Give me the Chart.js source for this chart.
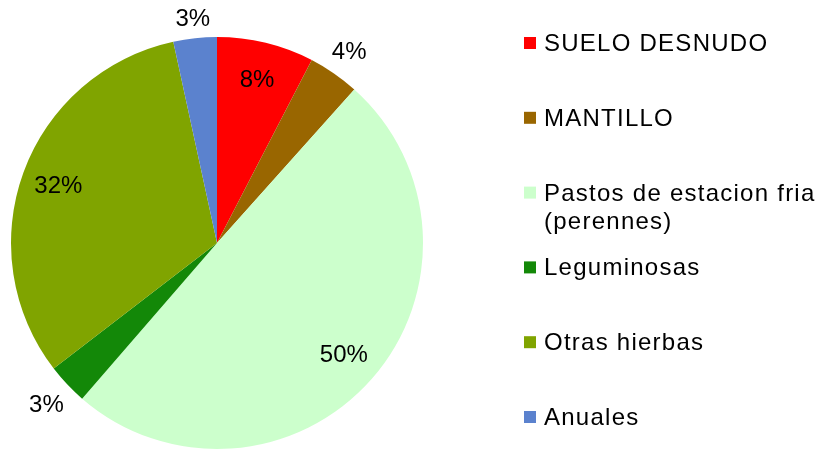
<!DOCTYPE html>
<html><head><meta charset="utf-8">
<script src="https://cdn.jsdelivr.net/npm/chart.js@4/dist/chart.umd.min.js"></script>
<style>html,body{margin:0;padding:0;background:#fff}#wrap{width:817px;height:450px;position:relative}canvas{display:block}</style>
</head><body><div id="wrap"><canvas id="c" width="817" height="450"></canvas></div>
<script>
const categories = ["SUELO DESNUDO", "MANTILLO", "Pastos de estacion fria (perennes)", "Leguminosas", "Otras hierbas", "Anuales"];
const legendLines = [["SUELO DESNUDO"], ["MANTILLO"], ["Pastos de estacion fria", "(perennes)"], ["Leguminosas"], ["Otras hierbas"], ["Anuales"]];
const values = [7.6, 4.0, 49.7, 3.2, 32.0, 3.4];
const colors = ["#FF0000", "#996600", "#CCFFCC", "#138808", "#80A400", "#5B82CE"];

const FONT = '"Liberation Sans", Arial, sans-serif';

const pieLabels = {
  id: 'pieLabels',
  afterDatasetsDraw(chart) {
    const ctx = chart.ctx;
    const meta = chart.getDatasetMeta(0);
    const data = chart.data.datasets[0].data;
    const total = data.reduce((a, b) => a + b, 0);
    ctx.save();
    ctx.font = '24px ' + FONT;
    ctx.fillStyle = '#000';
    ctx.textAlign = 'center';
    ctx.textBaseline = 'middle';
    meta.data.forEach((arc, i) => {
      const p = arc.getProps(['x', 'y', 'startAngle', 'endAngle', 'outerRadius'], true);
      const mid = (p.startAngle + p.endAngle) / 2;
      const pct = Math.round(data[i] / total * 100);
      const txt = pct + '%';
      const c = Math.cos(mid), s = Math.sin(mid);
      let r;
      if (pct >= 5) {
        r = p.outerRadius * 0.82;
      } else {
        const hw = ctx.measureText(txt).width / 2, hh = 8.5;
        r = p.outerRadius + 10 + Math.abs(hw * c) + Math.abs(hh * s);
      }
      ctx.fillText(txt, p.x + r * c, p.y + r * s + 1);
    });
    ctx.restore();
  }
};

const sideLegend = {
  id: 'sideLegend',
  afterDraw(chart) {
    const ctx = chart.ctx;
    ctx.save();
    ctx.font = '24px ' + FONT;
    if ('letterSpacing' in ctx) ctx.letterSpacing = '1.25px';
    ctx.fillStyle = '#000';
    ctx.textAlign = 'left';
    ctx.textBaseline = 'alphabetic';
    const x0 = 524, tx = 544, y0 = 51, step = 74.8, lh = 28;
    legendLines.forEach((lines, i) => {
      const by = y0 + i * step;
      ctx.fillStyle = colors[i];
      ctx.fillRect(x0, by - 14, 12, 12);
      ctx.fillStyle = '#000';
      lines.forEach((ln, j) => ctx.fillText(ln, tx, by + j * lh));
    });
    ctx.restore();
  }
};

new Chart(document.getElementById('c'), {
  type: 'pie',
  data: {
    labels: categories,
    datasets: [{ data: values, backgroundColor: colors, borderWidth: 0, hoverOffset: 0 }]
  },
  options: {
    responsive: false,
    animation: false,
    layout: { padding: { left: 11, top: 37, right: 394, bottom: 1 } },
    plugins: { legend: { display: false }, tooltip: { enabled: false } }
  },
  plugins: [pieLabels, sideLegend]
});
</script>
</body></html>
